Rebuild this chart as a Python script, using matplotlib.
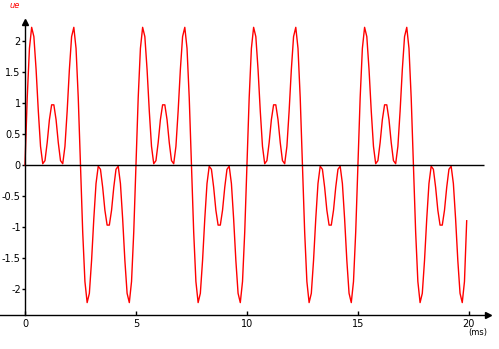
import numpy as np
import matplotlib
matplotlib.use("Agg")
import matplotlib.pyplot as plt

# waveform samples, every 0.1 ms (0 .. 19.9 ms)
t_ms = np.round(np.arange(200) * 0.1, 1)
ue = [
    # 0 - 5 ms
    0.00, 1.08, 1.88, 2.22, 2.07, 1.54, 0.87, 0.30, 0.02, 0.07, 0.36, 0.73, 0.97,
    0.97, 0.73, 0.36, 0.07, 0.02, 0.30, 0.87, 1.54, 2.07, 2.22, 1.88, 1.08,
    0.00, -1.08, -1.88, -2.22, -2.07, -1.54, -0.87, -0.30, -0.02, -0.07, -0.36, -0.73, -0.97,
    -0.97, -0.73, -0.36, -0.07, -0.02, -0.30, -0.87, -1.54, -2.07, -2.22, -1.88, -1.08,
    # 5 - 10 ms
    0.00, 1.08, 1.88, 2.22, 2.07, 1.54, 0.87, 0.30, 0.02, 0.07, 0.36, 0.73, 0.97,
    0.97, 0.73, 0.36, 0.07, 0.02, 0.30, 0.87, 1.54, 2.07, 2.22, 1.88, 1.08,
    0.00, -1.08, -1.88, -2.22, -2.07, -1.54, -0.87, -0.30, -0.02, -0.07, -0.36, -0.73, -0.97,
    -0.97, -0.73, -0.36, -0.07, -0.02, -0.30, -0.87, -1.54, -2.07, -2.22, -1.88, -1.08,
    # 10 - 15 ms
    0.00, 1.08, 1.88, 2.22, 2.07, 1.54, 0.87, 0.30, 0.02, 0.07, 0.36, 0.73, 0.97,
    0.97, 0.73, 0.36, 0.07, 0.02, 0.30, 0.87, 1.54, 2.07, 2.22, 1.88, 1.08,
    0.00, -1.08, -1.88, -2.22, -2.07, -1.54, -0.87, -0.30, -0.02, -0.07, -0.36, -0.73, -0.97,
    -0.97, -0.73, -0.36, -0.07, -0.02, -0.30, -0.87, -1.54, -2.07, -2.22, -1.88, -1.08,
    # 15 - 20 ms
    0.00, 1.08, 1.88, 2.22, 2.07, 1.54, 0.87, 0.30, 0.02, 0.07, 0.36, 0.73, 0.97,
    0.97, 0.73, 0.36, 0.07, 0.02, 0.30, 0.87, 1.54, 2.07, 2.22, 1.88, 1.08,
    0.00, -1.08, -1.88, -2.22, -2.07, -1.54, -0.87, -0.30, -0.02, -0.07, -0.36, -0.73, -0.97,
    -0.97, -0.73, -0.36, -0.07, -0.02, -0.30, -0.87, -1.54, -2.07, -2.22, -1.88, -0.90,
]
x_ticks = [0, 5, 10, 15, 20]
y_ticks = [-2, -1.5, -1, -0.5, 0, 0.5, 1, 1.5, 2]
y_labels = ["-2", "-1.5", "-1", "-0.5", "0", "0.5", "1", "1.5", "2"]

fig = plt.figure(figsize=(4.99, 3.49), dpi=100)
# axes spans from the left edge to the x-axis arrow, bottom axis at pixel 315
ax = fig.add_axes([0, 34 / 349, 488 / 499, (315 - 22) / 349])
ax.set_xlim(-1.126, 20.86)
ax.set_ylim(-2.42, 2.306)

ax.plot(t_ms, ue, color="red", lw=1.0)
ax.hlines(0, 0, 20.7, color="black", lw=1.0)

for s in ["top", "right"]:
    ax.spines[s].set_visible(False)
ax.spines["left"].set_position(("data", 0))
ax.spines["left"].set_linewidth(1.0)
ax.spines["bottom"].set_linewidth(1.0)

# arrow heads
ax.plot(1, 0, marker=">", color="black", ms=4, transform=ax.transAxes, clip_on=False)
ax.plot(0, 1, marker="^", color="black", ms=4, transform=ax.get_xaxis_transform(), clip_on=False)

ax.set_xticks(x_ticks)
ax.set_xticklabels([str(v) for v in x_ticks])
ax.set_yticks(y_ticks)
ax.set_yticklabels(y_labels)
ax.tick_params(axis="x", direction="in", length=3, width=1, pad=3, labelsize=7)
ax.tick_params(axis="y", direction="out", length=2, width=1, pad=1, labelsize=7)

fig.text(10 / 499, 1 - 6 / 349, "ue", color="red", fontsize=6, style="italic", va="center")
fig.text(478 / 499, 1 - 333 / 349, "(ms)", color="black", fontsize=6, ha="center", va="center")

fig.savefig("out.png", dpi=100)
